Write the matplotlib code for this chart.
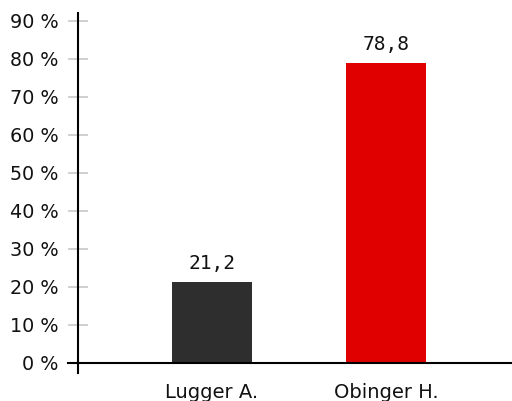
import matplotlib
matplotlib.use("Agg")
import matplotlib.pyplot as plt

names = ["Lugger A.", "Obinger H."]
shares = [21.2, 78.8]
bar_colors = ["#2e2e2e", "#e00000"]
y_ticks = [0, 10, 20, 30, 40, 50, 60, 70, 80, 90]

plt.rcParams['font.family'] = ['DejaVu Sans']

fig = plt.figure(figsize=(5.12, 4.01), dpi=100)
ax = fig.add_axes([77.7 / 512, 28 / 401, 1 - 77.7 / 512, 359.7 / 401])

pos = list(range(len(names)))
ax.bar(pos, shares, width=0.46, color=bar_colors, zorder=2)

for x, v in zip(pos, shares):
    ax.annotate(f"{v:.1f}".replace(".", ","), (x, v), xytext=(0, 6.7),
                textcoords="offset points", ha="center", va="bottom",
                fontsize=14, family="DejaVu Sans Mono", color="#111111")

ax.set_xlim(-0.772, 1.724)
ax.set_ylim(-2.63, 91.95)

ax.set_yticks(y_ticks)
ax.set_yticklabels([f"{t} %" for t in y_ticks])
ax.tick_params(axis="y", direction="inout", length=13.7, width=1.2,
               color="#c8c8c8", labelsize=13.8, pad=6.8, labelcolor="#111111")

ax.set_xticks(pos)
ax.set_xticklabels(names)
ax.tick_params(axis="x", length=0, labelsize=14, pad=7, labelcolor="#111111")

for s in ["top", "right", "bottom"]:
    ax.spines[s].set_visible(False)
ax.spines["left"].set_linewidth(1.5)
ax.spines["left"].set_zorder(3)

# baseline at 0, reaching a bit left of the y-axis
ax.axhline(0, xmin=-10 / 434.3, xmax=1, color="black", lw=1.5, clip_on=False, zorder=3)

fig.savefig("out.png", dpi=100)
